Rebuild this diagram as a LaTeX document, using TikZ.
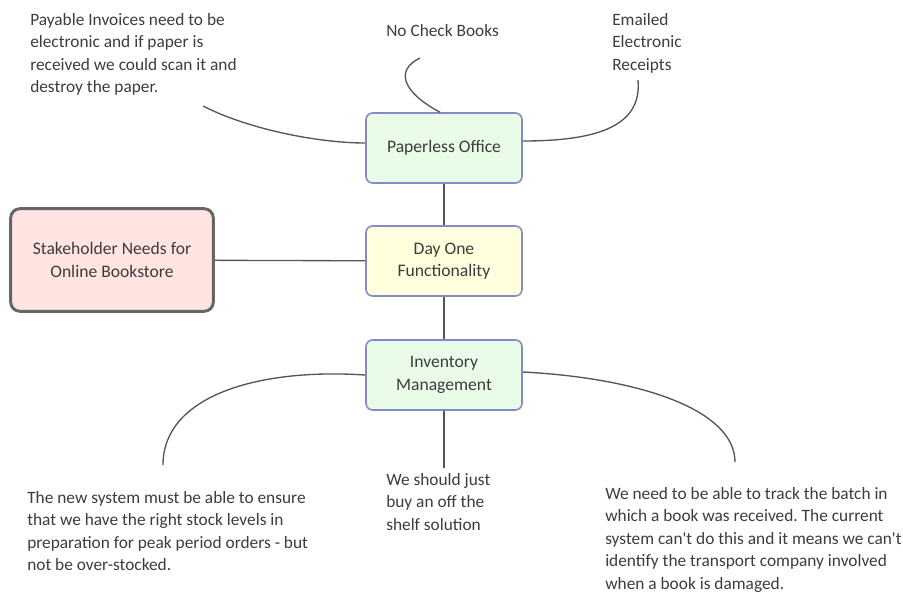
\documentclass[tikz,border=0pt]{standalone}
\usepackage{fontspec}
\setmainfont{Carlito}
\usetikzlibrary{positioning, calc}

\definecolor{boxline}{RGB}{135,135,205}
\definecolor{greenfill}{RGB}{232,252,232}
\definecolor{yellowfill}{RGB}{255,255,222}
\definecolor{pinkfill}{RGB}{255,228,225}
\definecolor{txtgray}{RGB}{60,60,60}
\definecolor{linkgray}{RGB}{85,85,85}

\begin{document}
\frenchspacing
\begin{tikzpicture}[
    x=0.75pt, y=-0.75pt,
    topic/.style={
        rectangle,
        draw=boxline,
        line width=1.2pt,
        rounded corners=5pt,
        minimum width=117pt,
        minimum height=52.5pt,
        align=center,
        text=txtgray,
        font=\fontsize{13.2pt}{16.9pt}\selectfont,
        fill=#1
    },
    note/.style={
        anchor=north west,
        align=left,
        inner sep=0pt,
        text=txtgray,
        font=\fontsize{13pt}{16.9pt}\selectfont
    },
    link/.style={draw=linkgray, line width=1pt}
]
    \useasboundingbox (0,0) rectangle (903,594);

    % main topics
    \node[topic=greenfill] (paper) at (444,148) {Paperless Office};
    \node[topic=yellowfill] (dayone) at (444,261) {Day One\\Functionality};
    \node[topic=greenfill] (inventory) at (444,375) {Inventory\\Management};
    \node[topic=pinkfill, draw=gray!80!black, line width=2.2pt, rounded corners=7pt,
          minimum width=152pt, minimum height=77pt] (stake) at (112,260) {Stakeholder Needs for\\Online Bookstore};

    % notes
    \node[note] (payable) at (30,13) {Payable Invoices need to be\\electronic and if paper is\\received we could scan it and\\destroy the paper.};
    \node[note] (checks) at (386,24) {No Check Books};
    \node[note] (emailed) at (612,13) {Emailed\\Electronic\\Receipts};
    \node[note] (stock) at (27,491) {The new system must be able to ensure\\that we have the right stock levels in\\preparation for peak period orders - but\\not be over-stocked.};
    \node[note] (shelf) at (386,473) {We should just\\buy an off the\\shelf solution};
    \node[note] (batch) at (605,487) {We need to be able to track the batch in\\which a book was received. The current\\system can\textquotesingle t do this and it means we can\textquotesingle t\\identify the transport company involved\\when a book is damaged.};

    % free ends of the curved links
    \coordinate (payEnd) at (203,106);
    \coordinate (checkEnd) at (420,58);
    \coordinate (mailEnd) at (638,80);
    \coordinate (stockEnd) at (163,465);
    \coordinate (shelfEnd) at (444,468);
    \coordinate (batchEnd) at (735,462);

    % links
    \draw[link] (paper) -- (dayone);
    \draw[link] (dayone) -- (inventory);
    \draw[link] (stake) -- (dayone);
    \draw[link] (payEnd) .. controls (250,130) and (320,143) .. ($(paper.west)+(0,-5)$);
    \draw[link] (checkEnd) .. controls (395,70) and (402,92) .. ($(paper.north)+(-4,0)$);
    \draw[link] (mailEnd) .. controls (642,125) and (600,141) .. ($(paper.east)+(0,-7)$);
    \draw[link] (inventory.west) .. controls (260,368) and (163,395) .. (stockEnd);
    \draw[link] (inventory.south) -- (shelfEnd);
    \draw[link] ($(inventory.east)+(0,-3)$) .. controls (640,378) and (735,410) .. (batchEnd);
\end{tikzpicture}
\end{document}
